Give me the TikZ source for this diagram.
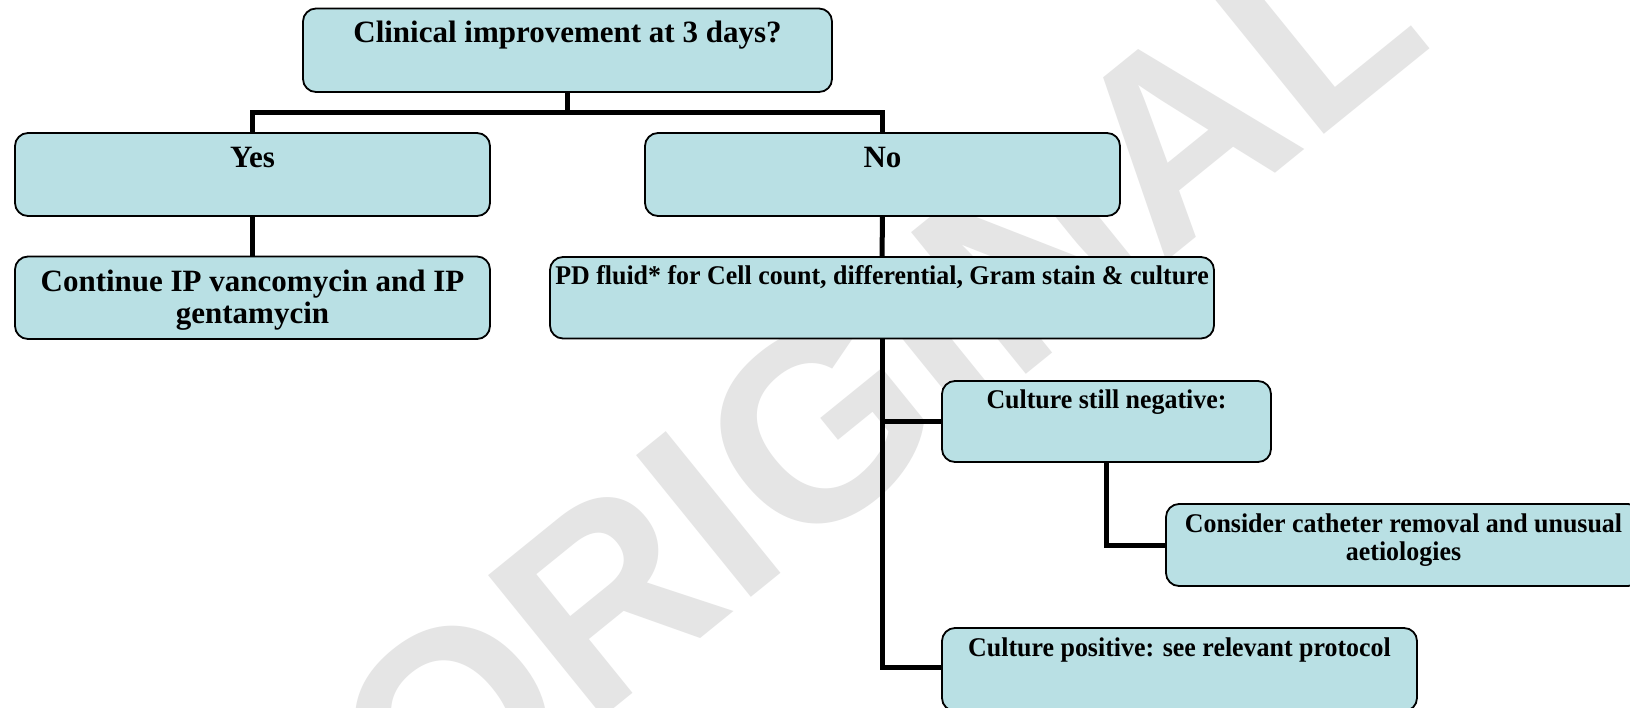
\documentclass[tikz,border=0pt]{standalone}
\usepackage{fontspec}
\setmainfont{Liberation Serif}
\newfontfamily\condfont[FakeStretch=0.96]{Liberation Serif}
\newfontfamily\wmfont{Liberation Sans}
\definecolor{boxfill}{RGB}{185,224,228}
\definecolor{wmgray}{RGB}{229,229,229}
\begin{document}
\begin{tikzpicture}[x=1pt,y=-1pt,
  box/.style={draw=black, line width=1.8pt, fill=boxfill, rounded corners=13pt,
              inner sep=0pt, outer sep=0pt, anchor=north west},
  big/.style={font=\fontsize{31}{32}\selectfont\bfseries, anchor=base, inner sep=0pt},
  small/.style={font=\condfont\fontsize{27}{28}\selectfont\bfseries, anchor=base, inner sep=0pt},
  conn/.style={line width=5pt},
  wm/.style={font=\wmfont\bfseries\fontsize{265}{265}\selectfont, text=wmgray, inner sep=0pt}]
\useasboundingbox (0,0) rectangle (1630,707);
\clip (0,0) rectangle (1630,707);
\fill[white] (0,0) rectangle (1630,707);
% watermark
\node[wm, rotate=39] (wm) at (875,380) {ORIGINAL};
% boxes
\node[box, minimum width=529pt, minimum height=83.5pt] (top) at (303,8.5) {};
\node[box, minimum width=475pt, minimum height=83pt] (yes) at (15,133) {};
\node[box, minimum width=475pt, minimum height=83pt] (no) at (645,133) {};
\node[box, minimum width=475pt, minimum height=82.5pt] (cont) at (15,256.5) {};
\node[box, minimum width=664pt, minimum height=81.5pt] (pd) at (550,257) {};
\node[box, minimum width=329pt, minimum height=81pt] (csn) at (942,381) {};
\node[box, minimum width=475pt, minimum height=82pt] (cons) at (1166,504) {};
\node[box, minimum width=475pt, minimum height=83pt] (cp) at (942,628) {};
% connectors
\coordinate (jl) at (252.5,112);
\coordinate (jr) at (882.5,112);
\draw[conn] (top.south) -- (top.south |- jl);
\draw[conn] (yes.north) -- (jl) -- (jr) -- (no.north);
\draw[conn] (yes.south) -- (cont.north);
\draw[conn] (no.south) -- (pd.north);
\draw[conn] (pd.south) |- ([yshift=2.5pt]cp.west);
\draw[conn] (pd.south |- csn.west) -- (csn.west);
\draw[conn] (csn.south) |- (cons.west);
% texts
\node[big] (toptext) at (567.5,42) {Clinical improvement at 3 days?};
\node[big] (yestext) at (252.5,167) {Yes};
\node[big] (notext) at (882.5,167) {No};
\node[big] (conttexta) at (252.5,291.5) {Continue IP vancomycin and IP};
\node[big] (conttextb) at (252.5,323) {gentamycin};
\node[small] (pdtext) at (882,284) {PD fluid* for Cell count, differential, Gram stain \& culture};
\node[small] (csntext) at (1106.5,408) {Culture still negative:};
\node[small] (constexta) at (1403.5,532) {Consider catheter removal and unusual};
\node[small] (constextb) at (1403.5,560) {aetiologies};
\node[small] (cptext) at (1179.5,656) {Culture positive: see relevant protocol};
\end{tikzpicture}
\end{document}
